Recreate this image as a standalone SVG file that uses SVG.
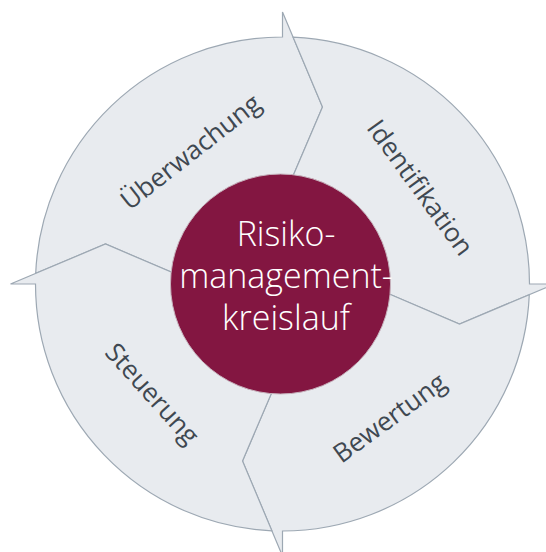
<svg xmlns="http://www.w3.org/2000/svg" xmlns:xlink="http://www.w3.org/1999/xlink" width="546" height="552" viewBox="0 0 546 552">
<style>
.seg{fill:#E8EBEF;stroke:#9DA8B3;stroke-width:1.2;stroke-linejoin:miter}
.lbl{font-family:"Open Sans","Noto Sans","Liberation Sans",sans-serif;font-size:26px;fill:#3F4851;text-anchor:middle;dominant-baseline:central}
.ctr{font-family:"Open Sans","Lato","Liberation Sans",sans-serif;font-weight:300;font-size:34px;fill:#FFFFFF;text-anchor:middle}
</style>
<defs>
<path id="arrow" d="M -104.4,-9 L -177,-40 L -246.8,-10.6 A 247 247 0 0 1 0,-247 L 0,-272 L 40,-177 L 9,-104.4 A 104.8 104.8 0 0 0 -104.4,-9 Z"/>
</defs>
<rect width="546" height="552" fill="#FFFFFF"/>
<g id="connectors"></g>
<g id="ueberwachung">
<use xlink:href="#arrow" class="seg" transform="translate(282.5,284)"/>
<text class="lbl" transform="translate(190,151) rotate(-38)">Überwachung</text>
</g>
<g id="identifikation">
<use xlink:href="#arrow" class="seg" transform="translate(282.5,284) rotate(90)"/>
<text class="lbl" transform="translate(421,187) rotate(54)">Identifikation</text>
</g>
<g id="bewertung">
<use xlink:href="#arrow" class="seg" transform="translate(282.5,284) rotate(180)"/>
<text class="lbl" transform="translate(389,417) rotate(-36)">Bewertung</text>
</g>
<g id="steuerung">
<use xlink:href="#arrow" class="seg" transform="translate(282.5,284) rotate(270)"/>
<text class="lbl" transform="translate(153,393) rotate(48)">Steuerung</text>
</g>
<g id="center">
<circle cx="280.5" cy="284" r="110" fill="#831641" stroke="#C7B3BD" stroke-width="1"/>
<text class="ctr" x="286" y="246">Risiko-</text>
<text class="ctr" x="286" y="288">management-</text>
<text class="ctr" x="286" y="330">kreislauf</text>
</g>
</svg>
